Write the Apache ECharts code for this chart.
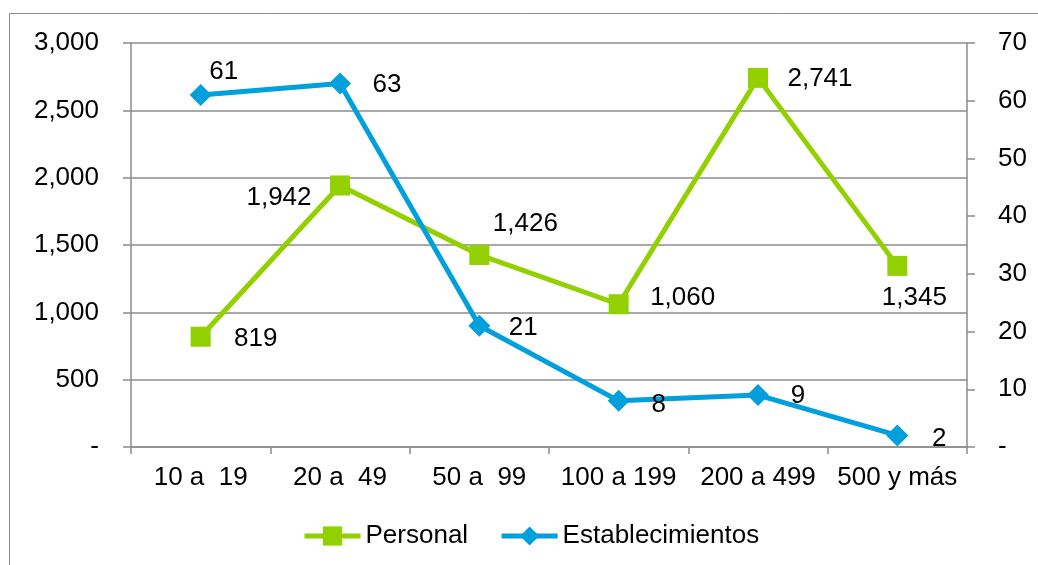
<!DOCTYPE html>
<html>
<head>
<meta charset="utf-8">
<script src="https://cdn.jsdelivr.net/npm/echarts@6/dist/echarts.min.js"></script>
<style>
  html, body { margin: 0; padding: 0; background: #fff; }
  #chart { width: 1038px; height: 565px; }
</style>
</head>
<body>
<div id="chart"></div>
<script>
const categories = ['10 a  19', '20 a  49', '50 a  99', '100 a 199', '200 a 499', '500 y más'];
const personal = [819, 1942, 1426, 1060, 2741, 1345];
const establecimientos = [61, 63, 21, 8, 9, 2];

// label placement per point, relative to the marker
const personalLabelOffsets = [[55, 2], [-61, 12], [46, -31], [64, -6], [62, 1], [17, 32]];
const estLabelOffsets = [[23, -23], [47, 1], [44, 2], [40, 4], [40, 1], [42, 3]];

const fmt = v => v === 0 ? '-' : v.toLocaleString('en-US');
const green = '#92D000';
const blue = '#00A0DC';
const grey = '#8c8c8c';

const chart = echarts.init(document.getElementById('chart'));
const option = {
  textStyle: { fontFamily: 'Liberation Sans, Arial, sans-serif' },
  animation: false,
  graphic: [{
    type: 'rect',
    shape: { x: 9.5, y: 13.5, width: 1060, height: 600 },
    style: { fill: 'none', stroke: grey, lineWidth: 1 }
  }],
  grid: { left: 131, right: 71, top: 43, bottom: 118 },
  legend: {
    left: 297,
    top: 518,
    itemWidth: 56,
    itemHeight: 24,
    itemGap: 31,
    lineStyle: { width: 5 },
    textStyle: { fontSize: 26, color: '#000' },
    data: ['Personal', 'Establecimientos']
  },
  xAxis: {
    type: 'category',
    data: categories,
    boundaryGap: true,
    axisLine: { lineStyle: { color: grey, width: 1.5 } },
    axisTick: { show: true, alignWithLabel: false, length: 7, lineStyle: { color: grey, width: 1.5 } },
    axisLabel: { color: '#000', fontSize: 26, margin: 18, interval: 0 }
  },
  yAxis: [{
    type: 'value',
    min: 0, max: 3000, interval: 500,
    axisLine: { show: true, lineStyle: { color: grey, width: 1.5 } },
    axisTick: { show: true, length: 8, lineStyle: { color: grey, width: 1.5 } },
    splitLine: { lineStyle: { color: grey, width: 1.5 } },
    axisLabel: { color: '#000', fontSize: 26, margin: 32, formatter: fmt }
  }, {
    type: 'value',
    min: 0, max: 70, interval: 10,
    position: 'right',
    axisLine: { show: true, lineStyle: { color: grey, width: 1.5 } },
    axisTick: { show: true, length: 8, lineStyle: { color: grey, width: 1.5 } },
    splitLine: { show: false },
    axisLabel: { color: '#000', fontSize: 26, margin: 31, formatter: fmt }
  }],
  series: [{
    name: 'Personal',
    type: 'line',
    yAxisIndex: 0,
    symbol: 'rect',
    symbolSize: 20,
    itemStyle: { color: green },
    lineStyle: { color: green, width: 5 },
    data: personal.map((v, i) => ({
      value: v,
      label: { show: true, position: 'inside', offset: personalLabelOffsets[i] }
    })),
    label: { color: '#000', fontSize: 26, formatter: p => fmt(p.value) },
    z: 2
  }, {
    name: 'Establecimientos',
    type: 'line',
    yAxisIndex: 1,
    symbol: 'diamond',
    symbolSize: 22,
    itemStyle: { color: blue },
    lineStyle: { color: blue, width: 5 },
    data: establecimientos.map((v, i) => ({
      value: v,
      label: { show: true, position: 'inside', offset: estLabelOffsets[i] }
    })),
    label: { color: '#000', fontSize: 26, formatter: p => fmt(p.value) },
    z: 3
  }]
};
chart.setOption(option);
</script>
</body>
</html>
